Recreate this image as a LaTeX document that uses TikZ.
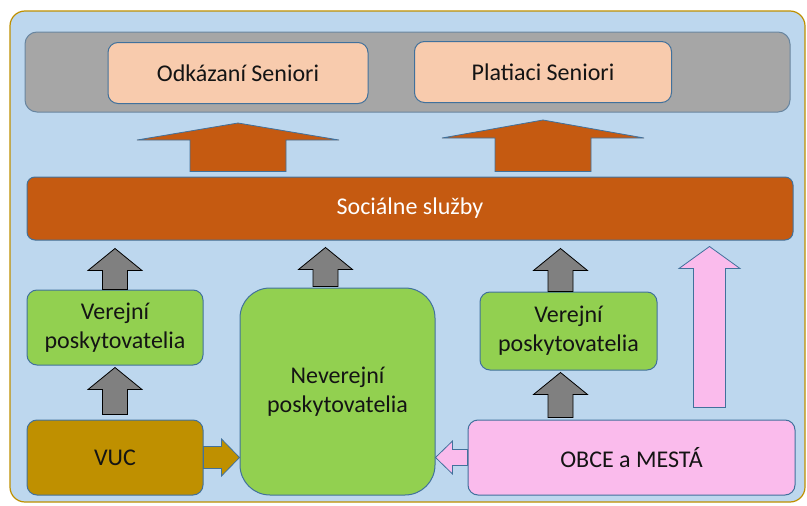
\documentclass[tikz,border=0pt]{standalone}
\usepackage{fontspec}
\setmainfont{Carlito}
\usetikzlibrary{calc}
\definecolor{bgblue}{RGB}{189,215,238}
\definecolor{framegold}{RGB}{191,144,0}
\definecolor{barback}{RGB}{166,166,166}
\definecolor{peach}{RGB}{248,203,173}
\definecolor{edge}{RGB}{65,113,156}
\definecolor{rust}{RGB}{197,90,17}
\definecolor{leaf}{RGB}{146,208,80}
\definecolor{pinkfill}{RGB}{250,187,236}
\definecolor{darkarrow}{RGB}{128,128,128}
\definecolor{textdark}{RGB}{20,20,20}
\tikzset{
    box/.style={rectangle, rounded corners=10pt, draw=edge, line width=1pt, inner sep=0pt, align=center, text=textdark, font=\fontsize{24}{29}\selectfont},
    target/.style={box, fill=peach, minimum width=260pt, minimum height=61pt},
    provider/.style={box, fill=leaf},
    grayarrow/.style={draw=black, fill=darkarrow, line width=0.8pt},
    orangearrow/.style={draw=edge, fill=rust, line width=0.8pt},
    pinkarrow/.style={draw=edge, fill=pinkfill, line width=0.8pt},
    goldarrow/.style={draw=edge, fill=framegold, line width=0.8pt}
}
% block arrow: style, tail, tip, half shaft, half head, head length
\newcommand{\blockarrow}[6]{%
    \coordinate (ba-h) at ($(#3)!#6!(#2)$);
    \draw[#1] ($(#2)!#4!90:(#3)$) -- ($(ba-h)!#4!90:(#3)$) -- ($(ba-h)!#5!90:(#3)$) -- (#3)
        -- ($(ba-h)!#5!-90:(#3)$) -- ($(ba-h)!#4!-90:(#3)$) -- ($(#2)!#4!-90:(#3)$) -- cycle;
}

\begin{document}
\begin{tikzpicture}[x=1pt, y=-1pt]
    \useasboundingbox (0,0) rectangle (807,506);
    % Background
    \draw[fill=bgblue, draw=framegold, line width=1.2pt, rounded corners=15pt] (10,11) rectangle (805,502);
    \draw[fill=barback, draw=edge!60!barback, line width=1pt, rounded corners=12pt] (25,32) rectangle (790,112);

    % Nodes
    \node (odk) [target] at (238,73) {Odkázaní Seniori};
    \node (plat) [target, minimum width=257pt] at (543,72) {Platiaci Seniori};
    \node (soc) [box, rounded corners=8pt, fill=rust, text=white, minimum width=766pt, minimum height=63pt] at (410,208.5) {Sociálne služby};
    \node (verL) [provider, minimum width=176pt, minimum height=75pt] at (115,327.5) {Verejní\\poskytovatelia};
    \node (nev) [provider, rounded corners=30pt, minimum width=195pt, minimum height=207pt] at (337.5,391.5) {Neverejní\\poskytovatelia};
    \node (verR) [provider, minimum width=177pt, minimum height=78pt] at (568.5,331) {Verejní\\poskytovatelia};
    \node (vuc) [box, fill=framegold, minimum width=176pt, minimum height=75pt] at (115,457.5) {VUC};
    \node (obce) [box, fill=pinkfill, minimum width=327pt, minimum height=75pt] at (631.5,457.5) {OBCE a MESTÁ};

    % Arrow ends
    \coordinate (o1a) at ($(soc.north -| odk.south)+(0,-5)$);
    \coordinate (o1b) at ($(odk.south)+(0,19)$);
    \coordinate (o2a) at ($(soc.north -| plat.south)+(0,-5)$);
    \coordinate (o2b) at ($(plat.south)+(0,17)$);
    \coordinate (g1a) at (verL.north);
    \coordinate (g1b) at ($(soc.south -| verL.north)+(0,8)$);
    \coordinate (g2a) at ($(nev.north)+(-12,-1)$);
    \coordinate (g2b) at ($(soc.south -| g2a)+(0,7)$);
    \coordinate (g3a) at ($(verR.north)+(-8,0)$);
    \coordinate (g3b) at ($(soc.south -| g3a)+(0,8)$);
    \coordinate (p1a) at ($(obce.north)+(78,-12)$);
    \coordinate (p1b) at ($(soc.south -| p1a)+(0,6)$);
    \coordinate (g4a) at ($(vuc.north)+(0,-5)$);
    \coordinate (g4b) at ($(verL.south)+(0,2)$);
    \coordinate (g5a) at ($(obce.north -| g3a)+(0,-2)$);
    \coordinate (g5b) at ($(verR.south -| g3a)+(0,2)$);
    \coordinate (r1a) at (vuc.east);
    \coordinate (r1b) at (nev.west |- vuc.east);
    \coordinate (l1a) at (obce.west);
    \coordinate (l1b) at (nev.east |- obce.west);

    % Arrows
    \blockarrow{orangearrow}{o1a}{o1b}{48pt}{101pt}{17pt}
    \blockarrow{orangearrow}{o2a}{o2b}{48pt}{101pt}{18pt}
    \blockarrow{grayarrow}{g1a}{g1b}{12.5pt}{27pt}{22pt}
    \blockarrow{grayarrow}{g2a}{g2b}{12.5pt}{27pt}{22pt}
    \blockarrow{grayarrow}{g3a}{g3b}{12.5pt}{27pt}{22pt}
    \blockarrow{pinkarrow}{p1a}{p1b}{16pt}{30.5pt}{22pt}
    \blockarrow{grayarrow}{g4a}{g4b}{12.5pt}{27pt}{22pt}
    \blockarrow{grayarrow}{g5a}{g5b}{12.5pt}{27pt}{22pt}
    \blockarrow{goldarrow}{r1a}{r1b}{11pt}{18.5pt}{18pt}
    \blockarrow{pinkarrow}{l1a}{l1b}{8pt}{16.5pt}{17pt}
\end{tikzpicture}
\end{document}
